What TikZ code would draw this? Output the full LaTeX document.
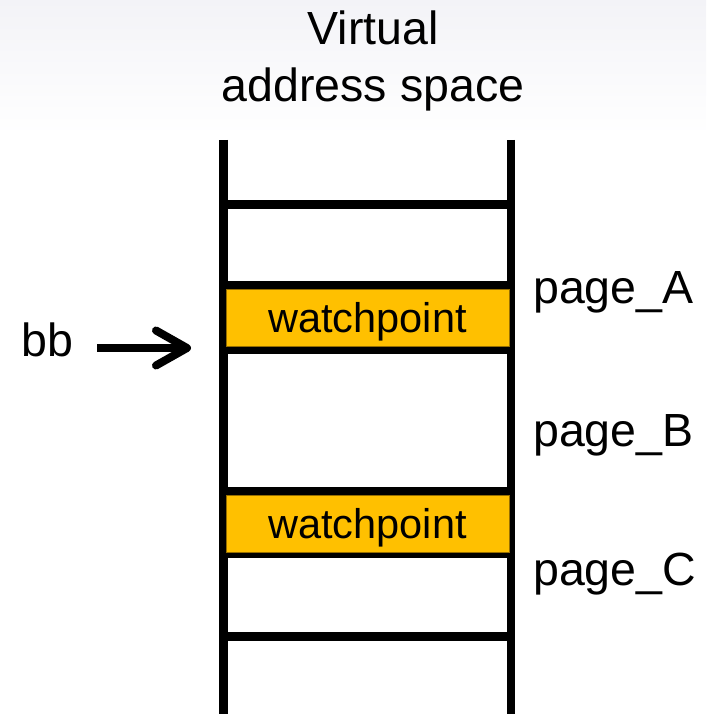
\documentclass[tikz,border=0pt]{standalone}
\usepackage{fontspec}
\setmainfont{Liberation Sans}
\usetikzlibrary{arrows.meta}
\definecolor{wpfill}{RGB}{255,192,0}
\definecolor{wpedge}{RGB}{150,110,0}
\definecolor{titlebg}{RGB}{243,243,247}
\begin{document}
\begin{tikzpicture}[x=1pt,y=-1pt,
  lbl/.style={font=\fontsize{46.5}{50}\selectfont, inner sep=0pt, anchor=base west},
  ttl/.style={font=\fontsize{46.5}{50}\selectfont, inner sep=0pt, anchor=base},
  wpbox/.style={fill=wpfill, draw=wpedge, line width=0.8pt, minimum width=283pt, minimum height=57pt,
    inner sep=0pt, text height=34pt, text depth=3.6pt, font=\fontsize{41.5}{44}\selectfont},
  rail/.style={line width=8.5pt},
  rung/.style={line width=8.5pt},
  pointer/.style={line width=8pt, -{Straight Barb[length=31pt,width=35pt,line cap=round,line join=round]}}
]
\useasboundingbox (0,0) rectangle (706,714);
\shade[top color=titlebg, bottom color=white] (0,0) rectangle (706,135);
% title
\node[ttl] (t1) at (373,45) {Virtual};
\node[ttl] (t2) at (373,101.5) {address space};
% ladder rails
\coordinate (lt) at (223.5,140);
\coordinate (lb) at (223.5,714);
\coordinate (rt) at (511,140);
\coordinate (rb) at (511,714);
\draw[rail] (lt) -- (lb);
\draw[rail] (rt) -- (rb);
% rungs
\foreach \y/\n in {204.5/r1,285.5/r2,349.5/r3,491.5/r4,554/r5,636.5/r6}{
  \coordinate (\n l) at (223.5,\y);
  \coordinate (\n r) at (511,\y);
  \draw[rung] (\n l) -- (\n r);
}
% watchpoints
\node[wpbox] (wpA) at (367.5,317.5) {watchpoint};
\node[wpbox] (wpC) at (367.5,523.5) {watchpoint};
% page labels
\node[lbl] (pA) at (533,303.3) {page\_A};
\node[lbl] (pB) at (533,446.7) {page\_B};
\node[lbl] (pC) at (533,585.5) {page\_C};
% bb pointer
\node[lbl] (bb) at (21,356.7) {bb};
\coordinate (tip) at (191,348);
\draw[pointer, shorten <=24pt] (bb.east |- tip) -- (tip);
\end{tikzpicture}
\end{document}
